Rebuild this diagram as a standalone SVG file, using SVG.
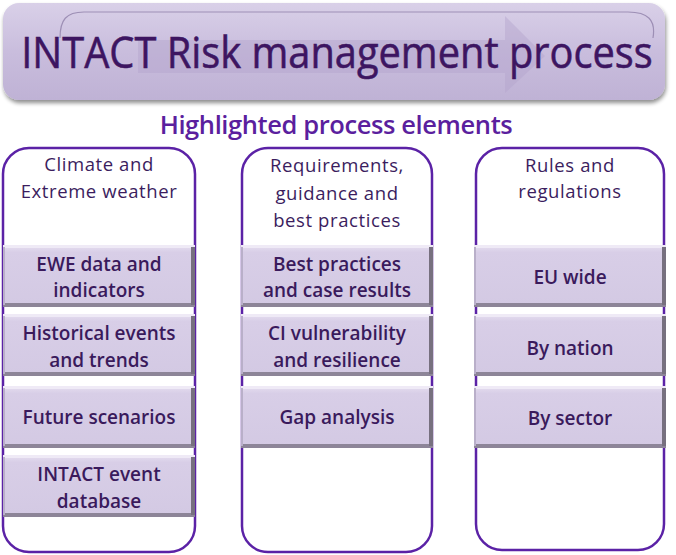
<svg xmlns="http://www.w3.org/2000/svg" width="676" height="555" viewBox="0 0 676 555">
<defs>
<linearGradient id="ban" x1="0" y1="0" x2="0" y2="1">
<stop offset="0" stop-color="#d9d0e8"/>
<stop offset="0.5" stop-color="#c9bddd"/>
<stop offset="1" stop-color="#bfb2d5"/>
</linearGradient>
<linearGradient id="box" x1="0" y1="0" x2="0" y2="1">
<stop offset="0" stop-color="#e6dff0"/>
<stop offset="0.12" stop-color="#d8cee7"/>
<stop offset="1" stop-color="#d3c9e3"/>
</linearGradient>
<filter id="sh" x="-5%" y="-10%" width="110%" height="130%">
<feGaussianBlur in="SourceAlpha" stdDeviation="2"/>
<feOffset dx="1" dy="3" result="b"/>
<feComponentTransfer><feFuncA type="linear" slope="0.45"/></feComponentTransfer>
<feMerge><feMergeNode/><feMergeNode in="SourceGraphic"/></feMerge>
</filter>
<g id="bx">
<rect x="0" y="0" width="192" height="62" fill="url(#box)"/>
<rect x="0" y="0" width="192" height="3" fill="#efeaf6"/>
<rect x="0" y="58" width="192" height="4" fill="#8d8598"/>
<rect x="188" y="2" width="4" height="58" fill="#77707f"/>
<rect x="0" y="2" width="2" height="58" fill="#b9afc9"/>
</g>
</defs>
<style>
.col{fill:#ffffff;stroke:#5b22a6;stroke-width:2.5}
.hd{font-family:"Open Sans","Liberation Sans",sans-serif;font-size:18.5px;letter-spacing:0.6px;fill:#3b1d5e;text-anchor:middle}
.bt{font-family:"Open Sans","Liberation Sans",sans-serif;font-size:19px;font-weight:600;fill:#3a1a5c;text-anchor:middle}
</style>

<g id="banner">
<rect x="3" y="3" width="662" height="97" rx="16" fill="url(#ban)" filter="url(#sh)"/>
<path d="M60,38 C60,20 66,12 84,12 L628,12 C648,12 656,20 653,38" fill="none" stroke="#9d8fb5" stroke-width="1.2"/>
<path d="M138,40 L505,40 L505,16 L545,56 L505,93 L505,73 L138,73 Z" fill="#b3a4cc" opacity="0.45"/>
<text transform="translate(337,68) scale(1,1.08)" x="0" y="0" font-family="Open Sans,Liberation Sans,sans-serif" font-size="39.8" font-weight="500" fill="#3d1561" stroke="#3d1561" stroke-width="0.5" text-anchor="middle">INTACT Risk management process</text>
</g>

<g id="subtitle">
<text x="336" y="134" font-family="Open Sans,Liberation Sans,sans-serif" font-size="25.5" font-weight="600" letter-spacing="-0.4" fill="#5b1f9e" text-anchor="middle">Highlighted process elements</text>
</g>

<g id="col1">
<rect class="col" x="3" y="148" width="192" height="404" rx="26"/>
<text class="hd" x="99" y="171">Climate and</text>
<text class="hd" x="99" y="198">Extreme weather</text>
</g>
<g id="col2">
<rect class="col" x="242" y="148" width="190" height="404" rx="26"/>
<text class="hd" x="337" y="172">Requirements,</text>
<text class="hd" x="337" y="200">guidance and</text>
<text class="hd" x="337" y="227">best practices</text>
</g>
<g id="col3">
<rect class="col" x="476" y="148" width="188" height="402" rx="26"/>
<text class="hd" x="570" y="172">Rules and</text>
<text class="hd" x="570" y="198">regulations</text>
</g>

<g id="ewe"><use href="#bx" x="3" y="245"/><text class="bt" x="99" y="271">EWE data and</text><text class="bt" x="99" y="297">indicators</text></g>
<g id="hist"><use href="#bx" x="3" y="314"/><text class="bt" x="99" y="340">Historical events</text><text class="bt" x="99" y="367">and trends</text></g>
<g id="future"><use href="#bx" x="3" y="386"/><text class="bt" x="99" y="424">Future scenarios</text></g>
<g id="intactdb"><use href="#bx" x="3" y="455"/><text class="bt" x="99" y="481">INTACT event</text><text class="bt" x="99" y="508">database</text></g>

<g id="best"><use href="#bx" x="241" y="245"/><text class="bt" x="337" y="271">Best practices</text><text class="bt" x="337" y="297">and case results</text></g>
<g id="civ"><use href="#bx" x="241" y="314"/><text class="bt" x="337" y="340">CI vulnerability</text><text class="bt" x="337" y="367">and resilience</text></g>
<g id="gap"><use href="#bx" x="241" y="386"/><text class="bt" x="337" y="424">Gap analysis</text></g>

<g id="eu"><use href="#bx" x="474" y="245"/><text class="bt" x="570" y="284">EU wide</text></g>
<g id="nation"><use href="#bx" x="474" y="314"/><text class="bt" x="570" y="355">By nation</text></g>
<g id="sector"><use href="#bx" x="474" y="386"/><text class="bt" x="570" y="425">By sector</text></g>

<g id="connectors"/>
</svg>
